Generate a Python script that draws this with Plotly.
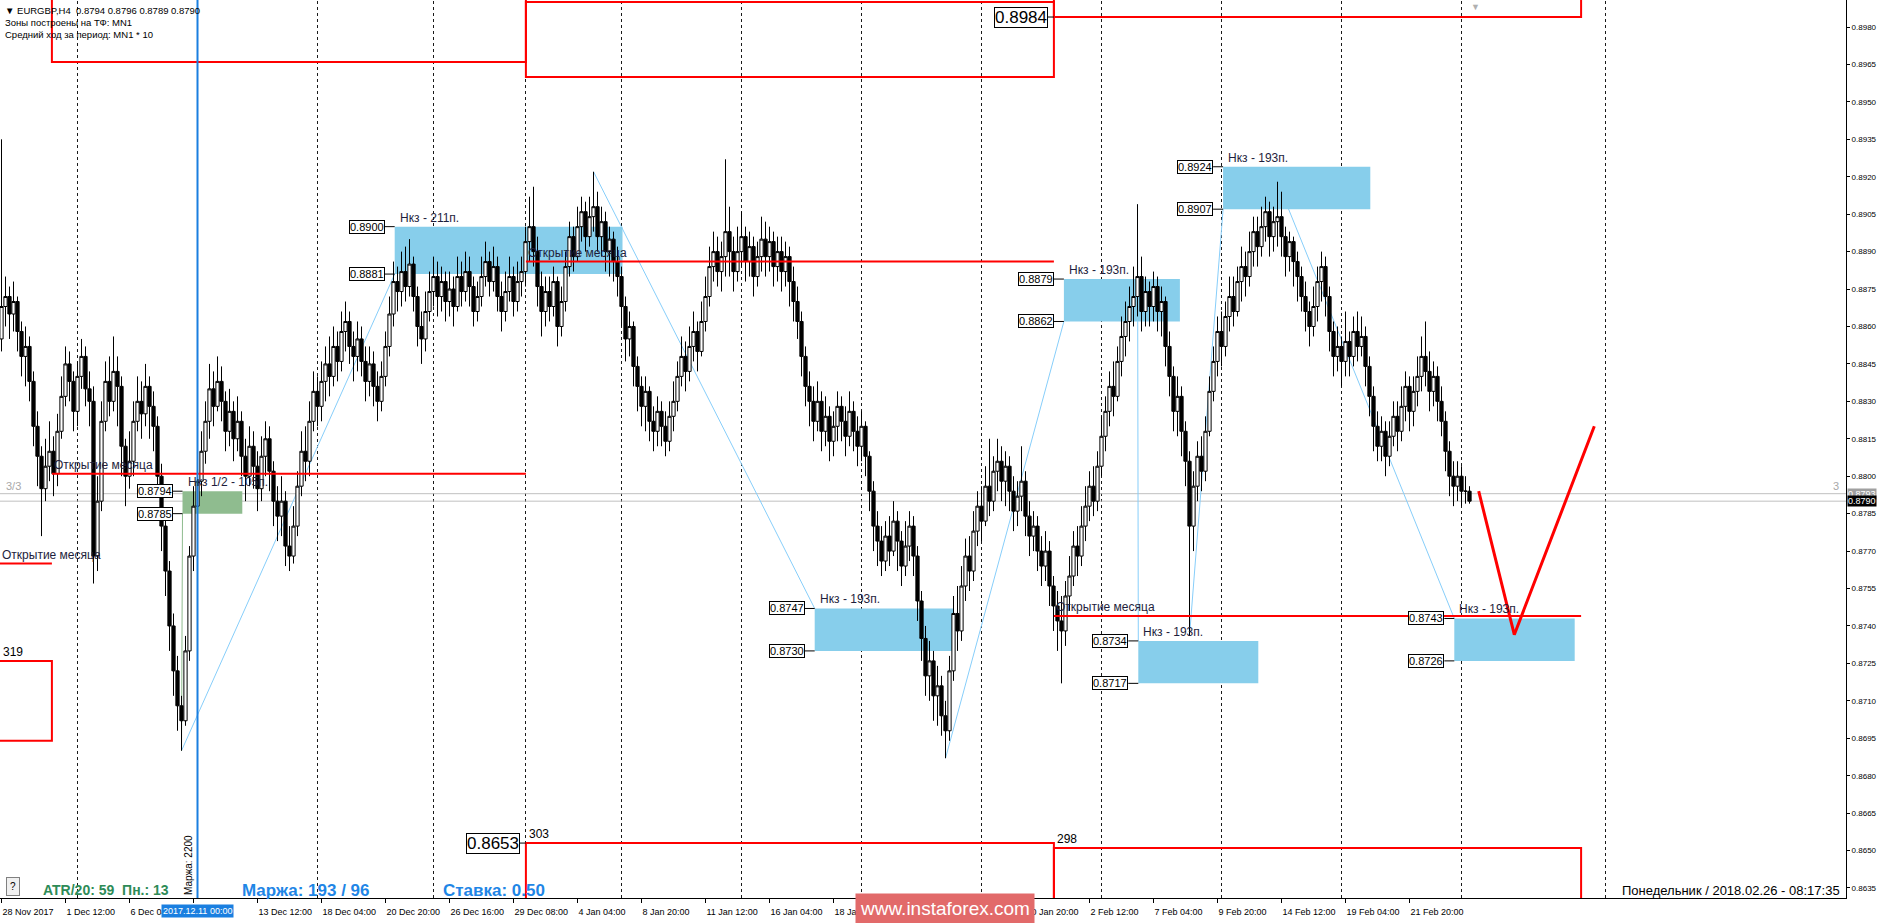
import plotly.graph_objects as go

PIP = 0.0001

# ---------------- DATA ----------------
# EURGBP H4 candles, prices in 1e-4 units. Bar 0 = 28 Nov 2017 20:00, last bar = 26 Feb 2018 08:00
first_open_p = 8855
close_p = [
    8868, 8872, 8865, 8870, 8858, 8848, 8852, 8838, 8820, 8808,
    8795, 8804, 8810, 8801, 8818, 8832, 8845, 8838, 8826, 8840,
    8848, 8835, 8830, 8768, 8790, 8822, 8838, 8830, 8842, 8836,
    8812, 8800, 8806, 8822, 8830, 8825, 8836, 8828, 8820, 8800,
    8780, 8762, 8740, 8722, 8708, 8702, 8730, 8768, 8788, 8798,
    8810, 8822, 8835, 8828, 8838, 8830, 8818, 8826, 8815, 8822,
    8808, 8800, 8812, 8804, 8795, 8808, 8815, 8802, 8790, 8784,
    8790, 8772, 8768, 8780, 8796, 8810, 8806, 8822, 8834, 8828,
    8838, 8845, 8840, 8852, 8846, 8858, 8862, 8852, 8848, 8855,
    8846, 8838, 8845, 8836, 8830, 8840, 8852, 8865, 8878, 8874,
    8882, 8876, 8885, 8872, 8860, 8855, 8866, 8874, 8880, 8872,
    8878, 8870, 8875, 8868, 8880, 8874, 8882, 8876, 8866, 8872,
    8880, 8886, 8878, 8884, 8872, 8866, 8874, 8880, 8870, 8878,
    8882, 8894, 8900, 8890, 8876, 8866, 8874, 8868, 8878, 8860,
    8870, 8884, 8896, 8888, 8900, 8906, 8896, 8904, 8908, 8896,
    8902, 8890, 8895, 8886, 8880, 8868, 8855, 8860, 8844, 8836,
    8828, 8834, 8822, 8818, 8826, 8820, 8814, 8824, 8830, 8840,
    8848, 8842, 8852, 8858, 8850, 8862, 8872, 8884, 8890, 8882,
    8888, 8898, 8890, 8882, 8890, 8896, 8886, 8892, 8880, 8888,
    8895, 8888, 8894, 8884, 8890, 8882, 8888, 8878, 8870, 8862,
    8848, 8836, 8830, 8822, 8830, 8818, 8824, 8814, 8820, 8828,
    8822, 8816, 8826, 8818, 8812, 8820, 8808, 8794, 8780, 8774,
    8766, 8776, 8770, 8782, 8774, 8764, 8772, 8780, 8768, 8750,
    8735, 8720, 8726, 8712, 8716, 8704, 8698, 8722, 8745, 8738,
    8756, 8768, 8762, 8778, 8788, 8782, 8796, 8790, 8802, 8806,
    8798, 8804, 8794, 8786, 8792, 8798, 8784, 8776, 8780, 8770,
    8764, 8770, 8756, 8748, 8742, 8738, 8752, 8760, 8772, 8768,
    8780, 8788, 8796, 8790, 8804, 8816, 8826, 8836, 8832, 8846,
    8856, 8862, 8868, 8872, 8880, 8866, 8874, 8868, 8876, 8866,
    8870, 8852, 8840, 8826, 8832, 8818, 8806, 8780, 8796, 8808,
    8802, 8818, 8834, 8846, 8858, 8852, 8864, 8872, 8866, 8878,
    8884, 8880, 8890, 8898, 8892, 8900, 8906, 8896, 8902, 8904,
    8896, 8888, 8894, 8886, 8880, 8872, 8866, 8860, 8868, 8878,
    8884, 8872, 8858, 8848, 8852, 8846, 8854, 8848, 8858, 8852,
    8856, 8844, 8832, 8820, 8812, 8818, 8808, 8816, 8824, 8818,
    8828, 8836, 8826, 8834, 8840, 8848, 8842, 8834, 8840, 8830,
    8822, 8810, 8800, 8796, 8800, 8794, 8794, 8790,
]
high_p = [
    8935, 8880, 8876, 8878, 8872, 8862, 8860, 8856, 8842, 8826,
    8812, 8815, 8822, 8816, 8825, 8840, 8852, 8850, 8842, 8846,
    8855, 8852, 8842, 8836, 8800, 8830, 8846, 8848, 8856, 8848,
    8840, 8815, 8818, 8830, 8840, 8838, 8845, 8840, 8834, 8824,
    8805, 8786, 8766, 8745, 8728, 8712, 8736, 8772, 8796, 8806,
    8818, 8830, 8845, 8842, 8848, 8844, 8834, 8835, 8830, 8832,
    8826, 8815, 8820, 8818, 8810, 8816, 8822, 8820, 8806, 8796,
    8800, 8794, 8780, 8788, 8802, 8818, 8820, 8830, 8842, 8840,
    8846, 8852, 8856, 8860, 8858, 8866, 8870, 8866, 8858, 8862,
    8860, 8852, 8852, 8850, 8842, 8846, 8858, 8872, 8886, 8884,
    8890, 8892, 8895, 8888, 8876, 8866, 8874, 8882, 8888, 8886,
    8884, 8882, 8882, 8880, 8888, 8886, 8890, 8888, 8880, 8878,
    8888, 8894, 8890, 8892, 8888, 8878, 8882, 8888, 8884, 8886,
    8888, 8900, 8912, 8916, 8896, 8882, 8880, 8880, 8884, 8880,
    8876, 8890, 8902, 8900, 8908, 8912, 8910, 8912, 8922, 8914,
    8908, 8906, 8900, 8898, 8892, 8884, 8872, 8866, 8862, 8848,
    8840, 8840, 8836, 8828, 8832, 8830, 8826, 8830, 8838, 8846,
    8856, 8854, 8860, 8866, 8862, 8870, 8880, 8892, 8898, 8896,
    8894, 8927, 8908, 8896, 8900, 8906, 8900, 8898, 8896, 8894,
    8904, 8902, 8900, 8898, 8896, 8896, 8894, 8892, 8884, 8876,
    8866, 8852, 8842, 8836, 8838, 8834, 8832, 8828, 8826, 8834,
    8832, 8828, 8834, 8830, 8824, 8826, 8822, 8810, 8798, 8786,
    8780, 8782, 8784, 8790, 8786, 8778, 8782, 8786, 8784, 8772,
    8754, 8740, 8734, 8730, 8724, 8720, 8710, 8728, 8752, 8756,
    8764, 8775, 8776, 8786, 8794, 8796, 8804, 8815, 8808, 8815,
    8812, 8810, 8808, 8800, 8798, 8812, 8802, 8790, 8786, 8784,
    8776, 8778, 8774, 8760, 8754, 8752, 8758, 8768, 8778, 8780,
    8788, 8796, 8802, 8804, 8810, 8824, 8832, 8842, 8846, 8852,
    8864, 8870, 8876, 8884, 8909, 8888, 8880, 8878, 8882, 8880,
    8876, 8872, 8858, 8844, 8840, 8836, 8822, 8810, 8802, 8814,
    8816, 8824, 8840, 8852, 8864, 8866, 8870, 8880, 8880, 8884,
    8892, 8890, 8898, 8904, 8904, 8908, 8912, 8910, 8908, 8918,
    8914, 8900, 8898, 8896, 8890, 8884, 8878, 8870, 8876, 8884,
    8890, 8888, 8876, 8862, 8860, 8856, 8866, 8858, 8864, 8866,
    8864, 8860, 8848, 8836, 8826, 8824, 8822, 8822, 8830, 8830,
    8836, 8842, 8840, 8840, 8848, 8856, 8862, 8850, 8846, 8844,
    8836, 8826, 8814, 8806, 8806, 8804, 8800, 8796,
]
low_p = [
    8850, 8860, 8855, 8858, 8850, 8840, 8836, 8830, 8812, 8796,
    8776, 8790, 8798, 8792, 8796, 8815, 8828, 8830, 8818, 8820,
    8835, 8828, 8820, 8757, 8762, 8786, 8818, 8824, 8826, 8820,
    8800, 8788, 8795, 8800, 8818, 8815, 8820, 8815, 8810, 8792,
    8770, 8752, 8730, 8712, 8698, 8690, 8700, 8726, 8762, 8780,
    8792, 8805, 8815, 8820, 8826, 8822, 8810, 8812, 8806, 8810,
    8800, 8790, 8796, 8795, 8786, 8790, 8800, 8794, 8780, 8774,
    8776, 8764, 8762, 8765, 8776, 8792, 8798, 8800, 8818, 8820,
    8822, 8830, 8832, 8836, 8838, 8842, 8850, 8845, 8838, 8842,
    8840, 8830, 8832, 8828, 8822, 8826, 8836, 8848, 8860, 8866,
    8868, 8870, 8872, 8866, 8852, 8845, 8850, 8862, 8868, 8864,
    8866, 8862, 8864, 8860, 8866, 8868, 8870, 8868, 8860, 8862,
    8868, 8876, 8872, 8874, 8866, 8858, 8862, 8870, 8864, 8866,
    8872, 8876, 8886, 8884, 8868, 8856, 8860, 8862, 8864, 8852,
    8856, 8866, 8880, 8882, 8886, 8894, 8890, 8892, 8898, 8890,
    8888, 8882, 8880, 8878, 8872, 8860, 8846, 8848, 8836, 8826,
    8820, 8818, 8814, 8810, 8812, 8812, 8808, 8810, 8818, 8826,
    8836, 8834, 8838, 8846, 8842, 8848, 8858, 8868, 8878, 8876,
    8874, 8880, 8880, 8874, 8878, 8884, 8878, 8880, 8872, 8876,
    8882, 8880, 8882, 8876, 8878, 8874, 8876, 8868, 8862, 8855,
    8840, 8828, 8820, 8814, 8818, 8810, 8812, 8806, 8808, 8814,
    8814, 8808, 8812, 8810, 8804, 8806, 8800, 8786, 8770, 8764,
    8760, 8762, 8764, 8768, 8762, 8756, 8760, 8766, 8760, 8742,
    8726, 8712, 8710, 8702, 8700, 8696, 8687, 8694, 8718, 8730,
    8734, 8750, 8754, 8758, 8772, 8774, 8780, 8784, 8786, 8794,
    8790, 8788, 8786, 8778, 8780, 8786, 8776, 8768, 8770, 8762,
    8756, 8758, 8748, 8738, 8730, 8717, 8732, 8746, 8756, 8760,
    8764, 8774, 8782, 8784, 8786, 8800, 8810, 8820, 8824, 8830,
    8840, 8848, 8854, 8860, 8864, 8858, 8860, 8860, 8862, 8858,
    8856, 8844, 8832, 8818, 8816, 8808, 8796, 8736, 8770, 8790,
    8794, 8798, 8816, 8830, 8840, 8844, 8848, 8858, 8860, 8864,
    8870, 8872, 8876, 8884, 8884, 8888, 8894, 8888, 8890, 8892,
    8888, 8880, 8882, 8876, 8870, 8866, 8858, 8852, 8856, 8862,
    8870, 8864, 8850, 8840, 8842, 8836, 8840, 8840, 8844, 8846,
    8848, 8836, 8824, 8810, 8806, 8806, 8800, 8804, 8812, 8810,
    8814, 8822, 8818, 8820, 8828, 8834, 8836, 8826, 8828, 8822,
    8816, 8802, 8792, 8788, 8790, 8788, 8789, 8789,
]

# time axis labels (every 16 bars); labels hidden in the picture (under the cursor tag / watermark) are blank
time_label_idx = [0, 16, 32, 48, 64, 80, 96, 112, 128, 144, 160, 176, 192, 208,
                  224, 240, 256, 272, 288, 304, 320, 336, 352]
time_labels = ["28 Nov 2017", "1 Dec 12:00", "6 Dec 04:00", "", "13 Dec 12:00",
               "18 Dec 04:00", "20 Dec 20:00", "26 Dec 16:00", "29 Dec 08:00", "4 Jan 04:00",
               "8 Jan 20:00", "11 Jan 12:00", "16 Jan 04:00", "18 Jan 20:00", "",
               "", "30 Jan 20:00", "2 Feb 12:00", "7 Feb 04:00", "9 Feb 20:00",
               "14 Feb 12:00", "19 Feb 04:00", "21 Feb 20:00"]

# price axis ticks
price_ticks = [0.8980, 0.8965, 0.8950, 0.8935, 0.8920, 0.8905, 0.8890, 0.8875,
               0.8860, 0.8845, 0.8830, 0.8815, 0.8800, 0.8785, 0.8770, 0.8755,
               0.8740, 0.8725, 0.8710, 0.8695, 0.8680, 0.8665, 0.8650, 0.8635]

# weekly separators (bar index of week start) + one in the future
week_sep_idx = [19, 49, 79, 108, 131, 155, 185, 215, 245, 275, 305, 335, 365, 401]

# "Нкз" target zones
zone_left = [98.3, 203.3, 265.6, 284.2, 305.4, 363.2]
zone_right = [155.25, 238.0, 294.6, 314.2, 342.2, 393.3]
zone_top = [0.8900, 0.8747, 0.8879, 0.8734, 0.8924, 0.8743]
zone_bottom = [0.8881, 0.8730, 0.8862, 0.8717, 0.8907, 0.8726]
zone_text = ["Нкз - 211п.", "Нкз - 193п.", "Нкз - 193п.", "Нкз - 193п.", "Нкз - 193п.", "Нкз - 193п."]
# zigzag pivots feeding each zone
pivot_idx = [45, 148, 236, 284.0, 297, 319]
pivot_price = [0.8690, 0.8922, 0.8687, 0.8909, 0.8736, 0.8918]
pivot_is_low = [True, False, True, False, True, False]

# half-range zone (green)
half_left, half_right = 45.25, 60.2
half_top, half_bottom = 0.8794, 0.8785
half_text = "Нкз 1/2 - 105п."

# month open lines ("Открытие месяца")
month_start = [-1.0, 12.6, 131.1, 263.1]
month_end = [12.6, 131.1, 263.1, 394.9]
month_open = [0.8765, 0.8801, 0.8886, 0.8744]

# monthly range boxes (upper / lower)
upper_x0 = [12.6, 131.1, 263.1]
upper_x1 = [131.1, 263.1, 394.9]
upper_bottom = [0.8966, 0.8960, 0.8984]
upper_top = [0.9030, 0.8990, 0.9030]
lower_x0 = [-1.0, 131.1, 263.1]
lower_x1 = [12.6, 263.1, 394.9]
lower_top = [0.8726, 0.8653, 0.8651]
lower_bottom = [0.8694, 0.8550, 0.8550]
lower_pips = ["319", "303", "298"]

# bid / ask
ask_price, bid_price = 0.8793, 0.8790
cursor_idx = 49

# projected path (red arrow)
proj_idx = [369.3, 378.2, 398.2]
proj_price = [0.8794, 0.87365, 0.8820]

# ---------------- BUILD ----------------
closes = [v * PIP for v in close_p]
opens = [first_open_p * PIP] + closes[:-1]
highs = [max(h * PIP, o, c) for h, o, c in zip(high_p, opens, closes)]
lows = [min(l * PIP, o, c) for l, o, c in zip(low_p, opens, closes)]
bars = list(range(len(closes)))

FONT = "Liberation Sans, Arial, sans-serif"
NARROW = "Liberation Sans Narrow, Arial Narrow, Liberation Sans, sans-serif"
TXT = "#1e1e3c"
RED = "#ff0000"
SKY = "#87ceeb"
ZIG = "#87cefa"
BLUE = "#1a7fe0"

X_RANGE = [-0.375, 461.125]
Y_RANGE = [0.8630989, 0.8990819]

shapes = []
# weekly separators
for s in week_sep_idx:
    shapes.append(dict(type="line", xref="x", yref="paper", x0=s, x1=s, y0=0, y1=1,
                       line=dict(color="#1a1a1a", width=1, dash="3px,3px"), layer="below"))
# bid/ask lines
for p in (ask_price, bid_price):
    shapes.append(dict(type="line", xref="paper", yref="y", x0=0, x1=1, y0=p, y1=p,
                       line=dict(color="#c0c0c0", width=1), layer="below"))
# zigzag legs
for k in range(len(zone_left)):
    ty = zone_bottom[k] if pivot_is_low[k] else zone_top[k]
    shapes.append(dict(type="line", xref="x", yref="y", x0=pivot_idx[k], y0=pivot_price[k],
                       x1=zone_left[k], y1=ty, line=dict(color=ZIG, width=1), layer="below"))
shapes.append(dict(type="line", xref="x", yref="y", x0=pivot_idx[0], y0=pivot_price[0],
                   x1=half_left, y1=half_bottom, line=dict(color="#8fbc8f", width=1), layer="below"))
# zones
for k in range(len(zone_left)):
    shapes.append(dict(type="rect", xref="x", yref="y", x0=zone_left[k], x1=zone_right[k],
                       y0=zone_bottom[k], y1=zone_top[k], fillcolor=SKY, line=dict(width=0),
                       layer="below"))
shapes.append(dict(type="rect", xref="x", yref="y", x0=half_left, x1=half_right,
                   y0=half_bottom, y1=half_top, fillcolor="#8fbc8f", line=dict(width=0), layer="below"))

# above-layer shapes
for a, b, p in zip(month_start, month_end, month_open):
    shapes.append(dict(type="line", xref="x", yref="y", x0=a, x1=b, y0=p, y1=p,
                       line=dict(color=RED, width=2), layer="above"))
for a, b, lo, hi in zip(upper_x0, upper_x1, upper_bottom, upper_top):
    shapes.append(dict(type="rect", xref="x", yref="y", x0=a, x1=b, y0=lo, y1=hi,
                       line=dict(color=RED, width=2), fillcolor="rgba(0,0,0,0)", layer="above"))
for a, b, lo, hi in zip(lower_x0, lower_x1, lower_bottom, lower_top):
    shapes.append(dict(type="rect", xref="x", yref="y", x0=a, x1=b, y0=lo, y1=hi,
                       line=dict(color=RED, width=2), fillcolor="rgba(0,0,0,0)", layer="above"))
shapes.append(dict(type="line", xref="x", yref="paper", x0=cursor_idx, x1=cursor_idx, y0=0, y1=1,
                   line=dict(color=BLUE, width=2), layer="above"))

annotations = []


def price_box(xv, price, size=11, gap_units=2.5, family=FONT):
    shapes.append(dict(type="line", xref="x", yref="y", x0=xv - gap_units, x1=xv, y0=price, y1=price,
                       line=dict(color="black", width=1), layer="above"))
    annotations.append(dict(x=xv, y=price, xref="x", yref="y", xanchor="right", yanchor="middle",
                            xshift=-gap_units * 4, text=f"{price:.4f}", showarrow=False,
                            font=dict(family=family, size=size, color="black"),
                            bgcolor="white", bordercolor="black", borderwidth=1, borderpad=0))


for k in range(len(zone_left)):
    price_box(zone_left[k], zone_top[k])
    price_box(zone_left[k], zone_bottom[k])
    annotations.append(dict(x=zone_left[k], y=zone_top[k], xref="x", yref="y", xanchor="left",
                            yanchor="bottom", xshift=3, yshift=0, text=zone_text[k], showarrow=False,
                            font=dict(family=FONT, size=12, color=TXT)))
price_box(half_left, half_top)
price_box(half_left, half_bottom)
annotations.append(dict(x=half_left, y=half_top, xref="x", yref="y", xanchor="left", yanchor="bottom",
                        xshift=3, text=half_text, showarrow=False, font=dict(family=FONT, size=12, color=TXT)))

# month open texts
for a, p in zip(month_start, month_open):
    annotations.append(dict(x=max(a, X_RANGE[0]), y=p, xref="x", yref="y", xanchor="left",
                            yanchor="bottom", xshift=0, text="Открытие месяца", showarrow=False,
                            font=dict(family=FONT, size=12, color=TXT)))
# pips of lower boxes
for a, p, t in zip(lower_x0, lower_top, lower_pips):
    annotations.append(dict(x=max(a, X_RANGE[0]), y=p, xref="x", yref="y", xanchor="left",
                            yanchor="bottom", xshift=1, text=t, showarrow=False,
                            font=dict(family=FONT, size=12, color="black")))
# big level labels
price_box(upper_x0[2], upper_bottom[2], size=17, gap_units=1.5, family=NARROW)
price_box(lower_x0[1], lower_top[1], size=17, gap_units=1.5, family=NARROW)

# header
header = ["\u25BC EURGBP,H4\u00a0\u00a00.8794 0.8796 0.8789 0.8790",
          "Зоны построены на ТФ: MN1",
          "Средний ход за период: MN1 * 10"]
for i, t in enumerate(header):
    annotations.append(dict(x=0, y=1, xref="paper", yref="paper", xanchor="left", yanchor="top",
                            xshift=3, yshift=-3 - 12 * i, text=t, showarrow=False,
                            font=dict(family=FONT, size=9.5, color="black")))

# 3/3 marks
annotations.append(dict(x=0, y=ask_price, xref="paper", yref="y", xanchor="left", yanchor="bottom",
                        xshift=4, text="3/3", showarrow=False, font=dict(family=FONT, size=11, color="#a8a8a8")))
annotations.append(dict(x=1, y=ask_price, xref="paper", yref="y", xanchor="right", yanchor="bottom",
                        xshift=-5, text="3", showarrow=False, font=dict(family=FONT, size=11, color="#a8a8a8")))

# bid / ask labels on price scale
annotations.append(dict(x=1, y=ask_price, xref="paper", yref="y", xanchor="left", yanchor="middle",
                        xshift=1, text=f"{ask_price:.4f}", showarrow=False, bgcolor="#a0a0a0",
                        borderpad=0, font=dict(family=FONT, size=9, color="white")))
annotations.append(dict(x=1, y=bid_price, xref="paper", yref="y", xanchor="left", yanchor="middle",
                        xshift=1, text=f"{bid_price:.4f}", showarrow=False, bgcolor="black",
                        borderpad=0, font=dict(family=FONT, size=9, color="white")))

# cursor time label and vertical text
annotations.append(dict(x=cursor_idx, y=0, xref="x", yref="paper", xanchor="center", yanchor="middle",
                        yshift=-13, text="2017.12.11 00:00", showarrow=False, bgcolor=BLUE, borderpad=1,
                        font=dict(family=FONT, size=9, color="white")))
annotations.append(dict(x=cursor_idx, y=0, xref="x", yref="paper", xanchor="right", yanchor="bottom",
                        xshift=-2, yshift=1, text="Маржа: 2200", textangle=-90, showarrow=False,
                        font=dict(family=FONT, size=10, color="black")))

# bottom info
annotations.append(dict(x=0, y=0, xref="paper", yref="paper", xanchor="left", yanchor="middle",
                        xshift=6, yshift=12, text="?", showarrow=False, bgcolor="#f0f0f0",
                        bordercolor="#808080", borderwidth=1, borderpad=3,
                        font=dict(family=FONT, size=10, color="black")))
annotations.append(dict(x=0, y=0, xref="paper", yref="paper", xanchor="left", yanchor="middle",
                        xshift=41, yshift=8, text="<b>ATR/20: 59\u00a0\u00a0Пн.: 13</b>", showarrow=False,
                        font=dict(family=FONT, size=14, color="#2e8b57")))
annotations.append(dict(x=0, y=0, xref="paper", yref="paper", xanchor="left", yanchor="middle",
                        xshift=240, yshift=8, text="<b>Маржа: 193 / 96</b>", showarrow=False,
                        font=dict(family=FONT, size=17, color="#1f86e6")))
annotations.append(dict(x=0, y=0, xref="paper", yref="paper", xanchor="left", yanchor="middle",
                        xshift=441, yshift=8, text="<b>Ставка: 0.50</b>", showarrow=False,
                        font=dict(family=FONT, size=17, color="#1f86e6")))
annotations.append(dict(x=1, y=0, xref="paper", yref="paper", xanchor="right", yanchor="middle",
                        xshift=-4, yshift=8, text="Понедельник / 2018.02.26 - 08:17:35", showarrow=False,
                        font=dict(family=FONT, size=13, color="black")))
annotations.append(dict(x=1475 / 1846, y=1, xref="paper", yref="paper", xanchor="center", yanchor="top",
                        text="\u25BC", showarrow=False, font=dict(family=FONT, size=9, color="#b0b0b0")))
# watermark
annotations.append(dict(x=945 / 1846, y=0, xref="paper", yref="paper", xanchor="center", yanchor="middle",
                        yshift=-10, text="www.instaforex.com", showarrow=False, bgcolor="#e26a6a",
                        borderpad=4, font=dict(family=FONT, size=19, color="white")))

fig = go.Figure()
fig.add_trace(go.Candlestick(
    x=bars, open=opens, high=highs, low=lows, close=closes,
    increasing=dict(line=dict(color="black", width=1), fillcolor="white"),
    decreasing=dict(line=dict(color="black", width=1), fillcolor="black"),
    whiskerwidth=0, showlegend=False, hoverinfo="skip"))
fig.add_trace(go.Scatter(x=proj_idx, y=proj_price, mode="lines",
                         line=dict(color=RED, width=3), showlegend=False, hoverinfo="skip"))

fig.update_layout(
    width=1888, height=923,
    margin=dict(l=0, r=42, t=0, b=25, pad=0),
    paper_bgcolor="white", plot_bgcolor="white",
    showlegend=False,
    boxgap=0.1, boxgroupgap=0.1,
    shapes=shapes, annotations=annotations,
    xaxis=dict(range=X_RANGE, tickmode="array", tickvals=time_label_idx, ticktext=time_labels,
               ticks="outside", ticklen=4, tickcolor="black", ticklabelposition="outside right",
               ticklabelstandoff=5,
               showgrid=False, zeroline=False, showline=True, mirror=True, linecolor="black",
               linewidth=1, rangeslider=dict(visible=False),
               tickfont=dict(family=FONT, size=9, color="black")),
    yaxis=dict(range=Y_RANGE, side="right", tickmode="array", tickvals=price_ticks,
               ticktext=[f"{v:.4f}" for v in price_ticks], ticks="outside", ticklen=3,
               tickcolor="black", showgrid=False, zeroline=False, showline=True, mirror=True,
               linecolor="black", linewidth=1, tickfont=dict(family=FONT, size=8, color="black")),
)

fig.write_html("out.html", config={"displayModeBar": False},
               post_script="document.body.style.margin='0';document.body.style.overflow='hidden';")
